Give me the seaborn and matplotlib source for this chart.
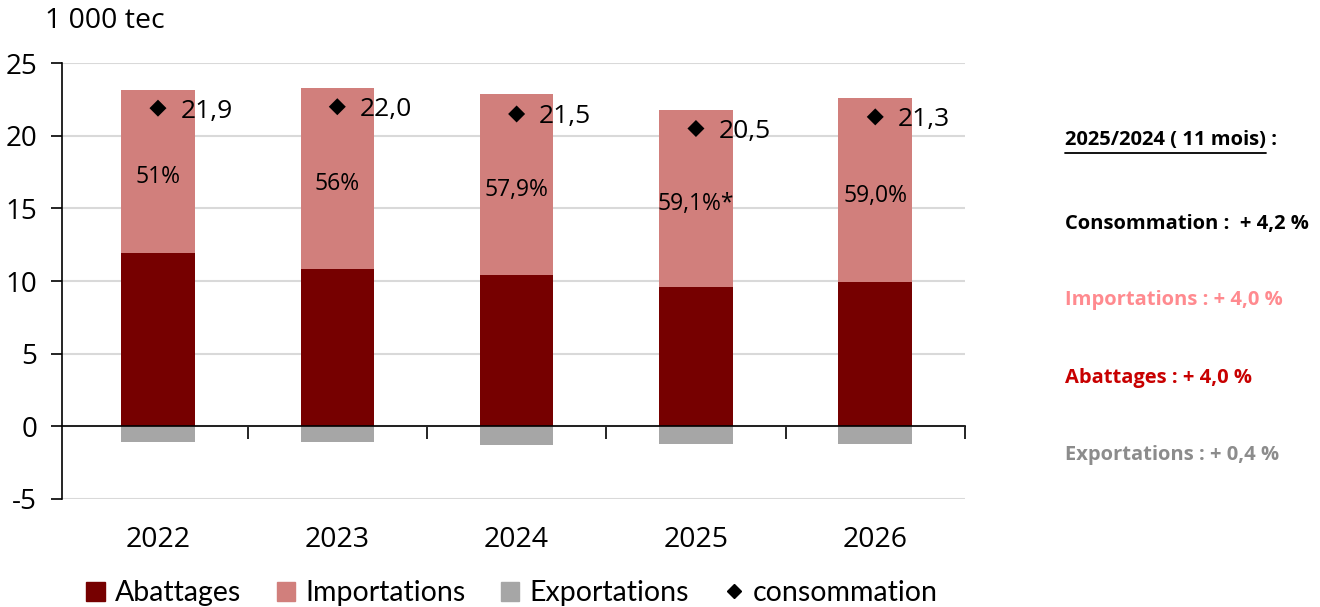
import numpy as np
import pandas as pd
import seaborn as sns
import matplotlib.pyplot as plt
from matplotlib.patches import Patch
from matplotlib.lines import Line2D
from matplotlib.ticker import FixedLocator

# Data (1 000 tec)
years = ['2022', '2023', '2024', '2025', '2026']
abattages = [11.95, 10.85, 10.45, 9.6, 9.95]
importations = [11.2, 12.45, 12.4, 12.15, 12.65]
exportations = [-1.1, -1.1, -1.3, -1.2, -1.2]
consommation = [21.9, 22.0, 21.5, 20.5, 21.3]
conso_labels = ['21,9', '22,0', '21,5', '20,5', '21,3']
part_import = ['51%', '56%', '57,9%', '59,1%*', '59,0%']

df = pd.DataFrame({'annee': years, 'abattages': abattages,
                   'importations': importations, 'exportations': exportations,
                   'consommation': consommation})
df['total'] = df['abattages'] + df['importations']

sns.set_theme(style='white')
plt.rcParams['font.family'] = ['Open Sans', 'DejaVu Sans']
plt.rcParams['axes.unicode_minus'] = False
plt.rcParams['text.color'] = 'black'
plt.rcParams['xtick.labelcolor'] = 'black'
plt.rcParams['ytick.labelcolor'] = 'black'

c_abat = '#760000'
c_imp = '#d17f7c'
c_exp = '#a6a6a6'

fig = plt.figure(figsize=(13.2, 6.07), dpi=100)
ax = fig.add_axes([0.047, 0.178, 0.684, 0.718])

# stacked bars: total first (importations colour), abattages on top of it
bar_kw = dict(saturation=1, width=0.41, linewidth=0, ax=ax, zorder=2)
sns.barplot(data=df, x='annee', y='total', color=c_imp, **bar_kw)
sns.barplot(data=df, x='annee', y='abattages', color=c_abat, **bar_kw)
sns.barplot(data=df, x='annee', y='exportations', color=c_exp, **bar_kw)
sns.scatterplot(data=df, x='annee', y='consommation', marker='D', color='black', s=75,
                edgecolor='none', ax=ax, zorder=4)

for i in range(len(years)):
    ax.text(i + 0.125, consommation[i] - 0.2, conso_labels[i], fontsize=19, va='center', ha='left',
            color='black', zorder=5)
    mid = abattages[i] + importations[i] / 2
    ax.text(i, mid - 0.4, part_import[i], fontsize=16.5, ha='center', va='center', color='black', zorder=5)

ax.set_xlim(-0.535, 4.5)
ax.set_ylim(-5, 25)
ax.set_yticks(range(-5, 26, 5))
ax.yaxis.grid(True, color='#d9d9d9', linewidth=1.5, zorder=0)
ax.set_axisbelow(True)

for s in ['top', 'right']:
    ax.spines[s].set_visible(False)
ax.spines['left'].set_color('black')
ax.spines['left'].set_linewidth(1.2)
ax.spines['bottom'].set_position(('data', 0))
ax.spines['bottom'].set_color('black')
ax.spines['bottom'].set_linewidth(1.2)

ax.tick_params(axis='y', which='major', left=True, length=8, width=1.2, color='black',
               labelsize=20, labelcolor='black', pad=10)
ax.xaxis.set_minor_locator(FixedLocator([0.5, 1.5, 2.5, 3.5, 4.5]))
ax.tick_params(axis='x', which='minor', bottom=True, length=9, width=1.2, color='black', direction='out')
ax.tick_params(axis='x', which='major', bottom=False, length=0, labelsize=20.5, labelcolor='black', pad=72)
ax.set_xlabel('')
ax.set_ylabel('')

fig.text(0.034, 0.965, '1 000 tec', fontsize=20.5, ha='left', va='center', color='black')

handles = [Patch(color=c_abat, label='Abattages'),
           Patch(color=c_imp, label='Importations'),
           Patch(color=c_exp, label='Exportations'),
           Line2D([], [], marker='D', color='black', linestyle='none', markersize=7, label='consommation')]
leg = fig.legend(handles=handles, loc='center', bbox_to_anchor=(0.388, 0.023), ncol=4, frameon=False,
                 prop={'family': ['Lato', 'DejaVu Sans'], 'size': 20.5},
                 handlelength=0.65, handleheight=0.65, handletextpad=0.35, columnspacing=1.25)
for t in leg.get_texts():
    t.set_color('black')

# commentary on the right
x0 = 0.807
rfs = 14.5
title = fig.text(x0, 0.77, '2025/2024 ( 11 mois)', fontsize=rfs, fontweight='bold', ha='left', va='center',
                 color='black')
fig.canvas.draw()
bb = title.get_window_extent().transformed(fig.transFigure.inverted())
fig.text(bb.x1, 0.77, ' :', fontsize=rfs, fontweight='bold', ha='left', va='center', color='black')
fig.add_artist(Line2D([bb.x0, bb.x1], [0.748, 0.748], color='black', linewidth=1.3))

fig.text(x0, 0.631, 'Consommation :  + 4,2 %', fontsize=rfs, fontweight='bold', color='black', va='center')
fig.text(x0, 0.505, 'Importations : + 4,0 %', fontsize=rfs, fontweight='bold', color='#ff8a8f', va='center')
fig.text(x0, 0.378, 'Abattages : + 4,0 %', fontsize=rfs, fontweight='bold', color='#c80000', va='center')
fig.text(x0, 0.251, 'Exportations : + 0,4 %', fontsize=rfs, fontweight='bold', color='#8c8c8c', va='center')

fig.savefig('out.png', dpi=100)
